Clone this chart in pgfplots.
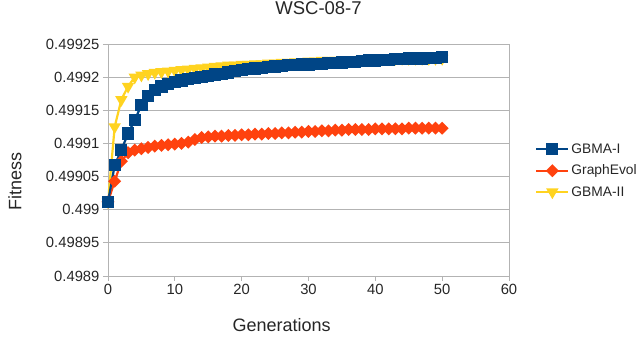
\documentclass[border=0pt]{standalone}
\usepackage{pgfplots}
\pgfplotsset{compat=1.18}
\usepackage{pgfplotstable}
\usepackage{fontspec}
\setmainfont{Liberation Sans}
\definecolor{cblue}{HTML}{004586}
\definecolor{cred}{HTML}{FF420E}
\definecolor{cyel}{HTML}{FFD320}
\definecolor{cgrid}{HTML}{B3B3B3}

\pgfplotstableread{
x y
0 0.499012
1 0.499067
2 0.499090
3 0.499115
4 0.499135
5 0.499158
6 0.499171
7 0.499180
8 0.499186
9 0.499190
10 0.499193
11 0.499195
12 0.499197
13 0.499199
14 0.499200
15 0.499202
16 0.499204
17 0.499205
18 0.499207
19 0.499209
20 0.499211
21 0.499212
22 0.499213
23 0.499214
24 0.499215
25 0.499216
26 0.499217
27 0.499218
28 0.499218
29 0.499219
30 0.499219
31 0.499220
32 0.499220
33 0.499221
34 0.499221
35 0.499222
36 0.499223
37 0.499223
38 0.499224
39 0.499225
40 0.499225
41 0.499226
42 0.499226
43 0.499227
44 0.499227
45 0.499228
46 0.499228
47 0.499228
48 0.499229
49 0.499229
50 0.499230
}\gbmaone

\pgfplotstableread{
x y
0 0.499012
1 0.499043
2 0.499073
3 0.499086
4 0.499090
5 0.499092
6 0.499094
7 0.499096
8 0.499097
9 0.499098
10 0.499099
11 0.499100
12 0.499102
13 0.499106
14 0.499109
15 0.499110
16 0.499111
17 0.499111
18 0.499112
19 0.499112
20 0.499113
21 0.499113
22 0.499114
23 0.499114
24 0.499115
25 0.499115
26 0.499116
27 0.499116
28 0.499117
29 0.499117
30 0.499118
31 0.499118
32 0.499119
33 0.499119
34 0.499120
35 0.499120
36 0.499121
37 0.499121
38 0.499121
39 0.499121
40 0.499122
41 0.499122
42 0.499122
43 0.499122
44 0.499122
45 0.499123
46 0.499123
47 0.499123
48 0.499123
49 0.499123
50 0.499123
}\graphevol

\pgfplotstableread{
x y
0 0.499012
1 0.499125
2 0.499166
3 0.499186
4 0.499200
5 0.499203
6 0.499205
7 0.499207
8 0.499208
9 0.499209
10 0.499210
11 0.499211
12 0.499212
13 0.499213
14 0.499214
15 0.499215
16 0.499216
17 0.499217
18 0.499218
19 0.499218
20 0.499219
21 0.499219
22 0.499220
23 0.499220
24 0.499221
25 0.499221
26 0.499222
27 0.499222
28 0.499223
29 0.499223
30 0.499224
31 0.499224
32 0.499225
33 0.499225
34 0.499225
35 0.499226
36 0.499226
37 0.499226
38 0.499227
39 0.499227
40 0.499227
41 0.499227
42 0.499228
43 0.499228
44 0.499228
45 0.499228
46 0.499228
47 0.499228
48 0.499228
49 0.499228
50 0.499228
}\gbmatwo

\begin{document}
\begin{tikzpicture}
\useasboundingbox (-108pt,-63pt) rectangle (529pt,276pt);
\begin{axis}[
  at={(0pt,0pt)}, anchor=south west,
  scale only axis, width=401pt, height=232pt,
  xmin=0, xmax=60, ymin=0.4989, ymax=0.49925,
  xtick={0,10,20,30,40,50,60},
  ytick={0.4989,0.49895,0.499,0.49905,0.4991,0.49915,0.4992,0.49925},
  yticklabels={0.4989,0.49895,0.499,0.49905,0.4991,0.49915,0.4992,0.49925},
  scaled y ticks=false,
  xtick pos=bottom, ytick pos=left,
  axis line style={draw=cgrid, line width=0.8pt},
  tick style={draw=cgrid, line width=0.8pt},
  tick align=outside, major tick length=5pt,
  ymajorgrids, grid style={draw=cgrid, line width=0.8pt},
  /pgf/number format/assume math mode=true,
  ticklabel style={font=\fontsize{14.8}{16}\selectfont, text=black!85},
  title={WSC-08-7},
  title style={at={(axis description cs:0.525,1.129)}, anchor=center, font=\fontsize{18.5}{20}\selectfont, text=black!85},
  xlabel={Generations},
  xlabel style={at={(axis description cs:0.433,-0.211)}, anchor=center, font=\fontsize{18}{20}\selectfont, text=black!85},
  ylabel={Fitness},
  ylabel style={at={(axis description cs:-0.232,0.406)}, anchor=center, font=\fontsize{18}{20}\selectfont, text=black!85},
  legend style={at={(axis description cs:1.065,0.454)}, anchor=west, draw=none, fill=none, inner sep=0pt,
    font=\fontsize{13.8}{15}\selectfont, text=black!85, row sep=6pt},
  legend cell align=left,
  reverse legend,
  legend image code/.code={\draw[mark repeat=2,mark phase=2] plot coordinates {(0pt,0pt) (16pt,0pt) (32pt,0pt)};},
]
\addplot[color=cyel, line width=2.2pt, mark=triangle*, mark size=5pt, mark options={rotate=180, solid}] table[x=x,y=y]{\gbmatwo};
\addlegendentry{GBMA-II}
\addplot[color=cred, line width=2.2pt, mark=square*, mark size=3.5pt, mark options={rotate=45, solid}] table[x=x,y=y]{\graphevol};
\addlegendentry{GraphEvol}
\addplot[color=cblue, line width=2.2pt, mark=square*, mark size=5pt, mark options={solid}] table[x=x,y=y]{\gbmaone};
\addlegendentry{GBMA-I}
\end{axis}
\end{tikzpicture}
\end{document}
